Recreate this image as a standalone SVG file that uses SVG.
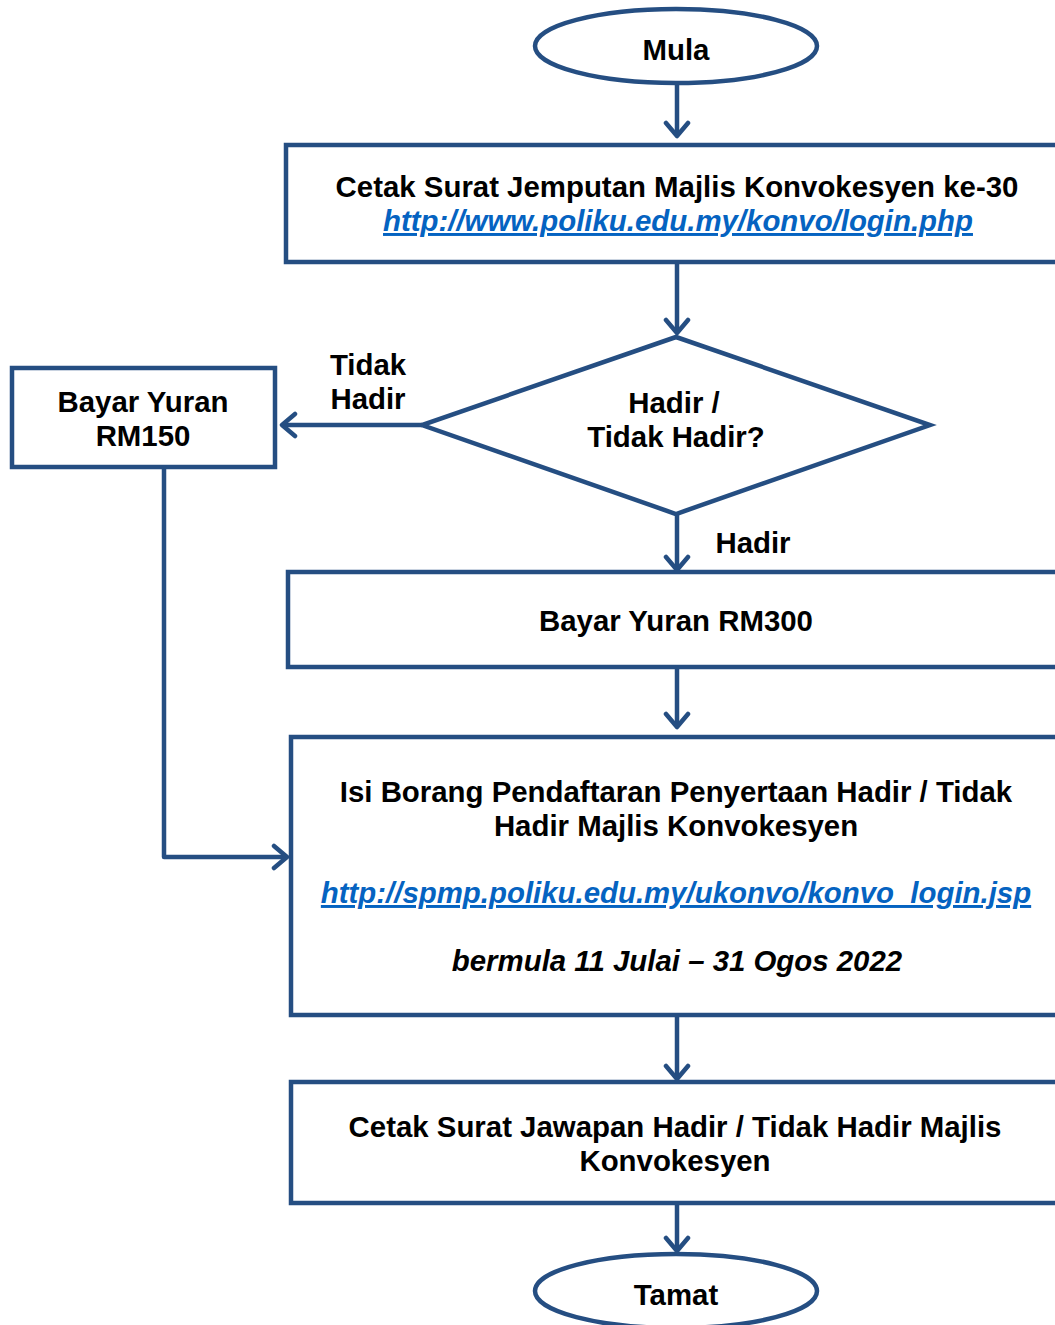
<svg xmlns="http://www.w3.org/2000/svg" width="1055" height="1325" viewBox="0 0 1055 1325">
<style>
.s{fill:#fff;stroke:#254E82;stroke-width:4.5}
.c{fill:none;stroke:#254E82;stroke-width:4.5}
.t{font-family:"Liberation Sans",Arial,sans-serif;font-weight:bold;font-size:29.4px;fill:#000;text-anchor:middle}
.l{fill:#0563C1;font-style:italic;text-decoration:underline}
.i{font-style:italic}
</style>
<defs>
<marker id="ah" markerUnits="userSpaceOnUse" viewBox="-16 -14 20 28" refX="0" refY="0" markerWidth="20" markerHeight="28" orient="auto">
<path d="M-13,-11 L0,0 L-13,11" fill="none" stroke="#254E82" stroke-width="4.5" stroke-linecap="round" stroke-linejoin="round"/>
</marker>
</defs>
<g id="connectors">
<line class="c" x1="677" y1="83" x2="677" y2="136" marker-end="url(#ah)"/>
<line class="c" x1="677" y1="262" x2="677" y2="333" marker-end="url(#ah)"/>
<line class="c" x1="422" y1="425" x2="282" y2="425" marker-end="url(#ah)"/>
<line class="c" x1="677" y1="514" x2="677" y2="570" marker-end="url(#ah)"/>
<line class="c" x1="677" y1="667" x2="677" y2="727" marker-end="url(#ah)"/>
<polyline class="c" points="164,468 164,857 287,857" stroke-linejoin="round" marker-end="url(#ah)"/>
<line class="c" x1="677" y1="1015" x2="677" y2="1079" marker-end="url(#ah)"/>
<line class="c" x1="677" y1="1203" x2="677" y2="1251" marker-end="url(#ah)"/>
<text class="t" x="368" y="375">Tidak</text>
<text class="t" x="368" y="409">Hadir</text>
<text class="t" x="753" y="553">Hadir</text>
</g>
<g id="mula">
<ellipse class="s" cx="676" cy="46" rx="141" ry="37"/>
<text class="t" x="676" y="60">Mula</text>
</g>
<g id="cetak-surat">
<rect class="s" x="286" y="145" width="780" height="117"/>
<text class="t" x="677" y="197">Cetak Surat Jemputan Majlis Konvokesyen ke-30</text>
<text class="t l" x="678" y="231">http://www.poliku.edu.my/konvo/login.php</text>
</g>
<g id="hadir-decision">
<polygon class="s" points="676,337 930,425 676,514 422,425"/>
<text class="t" x="674" y="413">Hadir /</text>
<text class="t" x="676" y="447">Tidak Hadir?</text>
</g>
<g id="rm150">
<rect class="s" x="12" y="368" width="263" height="99"/>
<text class="t" x="143" y="412">Bayar Yuran</text>
<text class="t" x="143" y="446">RM150</text>
</g>
<g id="rm300">
<rect class="s" x="288" y="572" width="780" height="95"/>
<text class="t" x="676" y="631">Bayar Yuran RM300</text>
</g>
<g id="isi-borang">
<rect class="s" x="291" y="737" width="780" height="278"/>
<text class="t" x="676" y="802">Isi Borang Pendaftaran Penyertaan Hadir / Tidak</text>
<text class="t" x="676" y="836">Hadir Majlis Konvokesyen</text>
<text class="t l" x="676" y="903">http://spmp.poliku.edu.my/ukonvo/konvo_login.jsp</text>
<text class="t i" x="677" y="971">bermula 11 Julai – 31 Ogos 2022</text>
</g>
<g id="cetak-jawapan">
<rect class="s" x="291" y="1082" width="780" height="121"/>
<text class="t" x="675" y="1137">Cetak Surat Jawapan Hadir / Tidak Hadir Majlis</text>
<text class="t" x="675" y="1171">Konvokesyen</text>
</g>
<g id="tamat">
<ellipse class="s" cx="676" cy="1291" rx="141" ry="37"/>
<text class="t" x="676" y="1305">Tamat</text>
</g>
</svg>
